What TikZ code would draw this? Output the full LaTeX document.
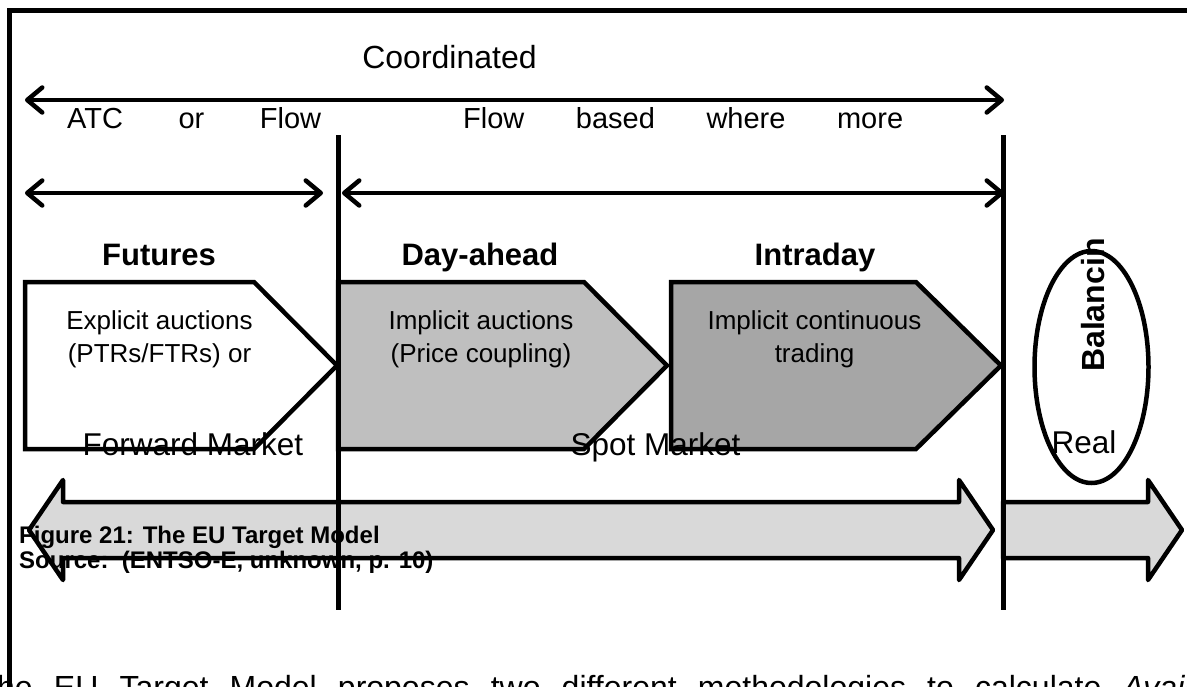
\documentclass[tikz,border=0pt]{standalone}
\usepackage{fontspec}
\setmainfont{Liberation Sans}
\usetikzlibrary{arrows.meta}
\definecolor{dayfill}{HTML}{BFBFBF}
\definecolor{intrafill}{HTML}{A6A6A6}
\definecolor{barfill}{HTML}{D9D9D9}
\begin{document}
\begin{tikzpicture}[x=1pt,y=-1pt,
  every node/.style={inner sep=0pt},
  span/.style={line width=4.5pt,
    {Straight Barb[length=15pt,width=25pt,round]}-{Straight Barb[length=15pt,width=25pt,round]}},
  divider/.style={line width=5pt},
  outline/.style={line width=4.5pt, line join=miter},
  bar/.style={line width=4.5pt, line join=round},
  big/.style={font=\fontsize{32}{38}\selectfont},
  row/.style={font=\fontsize{29}{34}\selectfont},
  head/.style={font=\bfseries\fontsize{31}{36}\selectfont},
  inner/.style={font=\fontsize{26}{30}\selectfont},
  market/.style={font=\fontsize{31.5}{36}\selectfont},
  caption/.style={font=\bfseries\fontsize{24}{28}\selectfont}]
\useasboundingbox (0,0) rectangle (1187,686);
\clip (0,0) rectangle (1187,686);

% outer frame
\draw[line width=5pt] (9.5,700) -- (9.5,10.8) -- (1200,10.8);

% coordination span
\node[big, anchor=base] (coord) at (449.5,68) {Coordinated};
\coordinate (topL) at (25,100);
\coordinate (topR) at (1004,100);
\draw[span] (topL) -- (topR);
\node[row, anchor=base west] (atc) at (67,128) {\makebox[254pt][s]{ATC or Flow}};
\node[row, anchor=base west] (fb) at (463,128) {\makebox[440pt][s]{Flow based where more}};

% timeframe spans
\coordinate (fwdL) at (25,193);
\coordinate (fwdR) at (323,193);
\coordinate (spotL) at (342,193);
\coordinate (spotR) at (1004,193);
\draw[span] (fwdL) -- (fwdR);
\draw[span] (spotL) -- (spotR);

% headings
\node[head, anchor=base] (hfut) at (159,265) {Futures};
\node[head, anchor=base] (hday) at (480,265) {Day-ahead};
\node[head, anchor=base] (hintra) at (815,265) {Intraday};

% market stage fills
\fill[white] (25,282) -- (254,282) -- (337,365.5) -- (254,449) -- (25,449) -- cycle;
\fill[dayfill] (338,282) -- (584,282) -- (667,365.5) -- (584,449) -- (338,449) -- cycle;
\fill[intrafill] (671,282) -- (916,282) -- (1001,365.5) -- (916,449) -- (671,449) -- cycle;

% stage descriptions
\node[inner, anchor=base] (fut1) at (159.5,329) {Explicit auctions};
\node[inner, anchor=base] (fut2) at (159.5,362) {(PTRs/FTRs) or};
\node[inner, anchor=base] (day1) at (481,329) {Implicit auctions};
\node[inner, anchor=base] (day2) at (481,362) {(Price coupling)};
\node[inner, anchor=base] (intra1) at (814.5,329) {Implicit continuous};
\node[inner, anchor=base] (intra2) at (814.5,362) {trading};

% market names
\node[market, anchor=base] (fwdm) at (193,455) {Forward Market};
\node[market, anchor=base] (spotm) at (655.5,455) {Spot Market};
\node[market, anchor=base] (realm) at (1084,453) {Real};

% stage outlines
\draw[outline] (25,282) -- (254,282) -- (337,365.5) -- (254,449) -- (25,449) -- cycle;
\draw[outline] (338,282) -- (584,282) -- (667,365.5) -- (584,449) -- (338,449) -- cycle;
\draw[outline] (671,282) -- (916,282) -- (1001,365.5) -- (916,449) -- (671,449) -- cycle;

% balancing
\draw[line width=4.5pt] (1091.5,367) ellipse [x radius=57pt, y radius=116pt];
\node[font=\bfseries\fontsize{32}{38}\selectfont, rotate=90, anchor=base west] (bal) at (1104,372) {Balancin};

% time axis
\fill[barfill] (29,530) -- (63,480) -- (63,502) -- (959,502) -- (959,480) -- (993,530)
  -- (959,580) -- (959,558) -- (63,558) -- (63,580) -- cycle;
\fill[barfill] (1003,502) -- (1148,502) -- (1148,480) -- (1182,530) -- (1148,580)
  -- (1148,558) -- (1003,558) -- cycle;
\node[caption, anchor=base west] (cap1) at (19,543) {Figure 21: The EU Target Model};
\node[caption, anchor=base west] (cap2) at (19,568) {Source:\ \ (ENTSO-E, unknown, p. 10)};
\draw[bar] (29,530) -- (63,480) -- (63,502) -- (959,502) -- (959,480) -- (993,530)
  -- (959,580) -- (959,558) -- (63,558) -- (63,580) -- cycle;
\draw[bar] (1003,502) -- (1148,502) -- (1148,480) -- (1182,530) -- (1148,580)
  -- (1148,558) -- (1003,558) -- cycle;

% dividers
\draw[divider] (338,135) -- (338,610);
\draw[divider] (1003,135) -- (1003,610);

% running text below
\node[big, anchor=base west] (body) at (-3,698)
  {\makebox[1195pt][s]{he EU Target Model proposes two different methodologies to calculate \textit{Avail}}};
\end{tikzpicture}
\end{document}
